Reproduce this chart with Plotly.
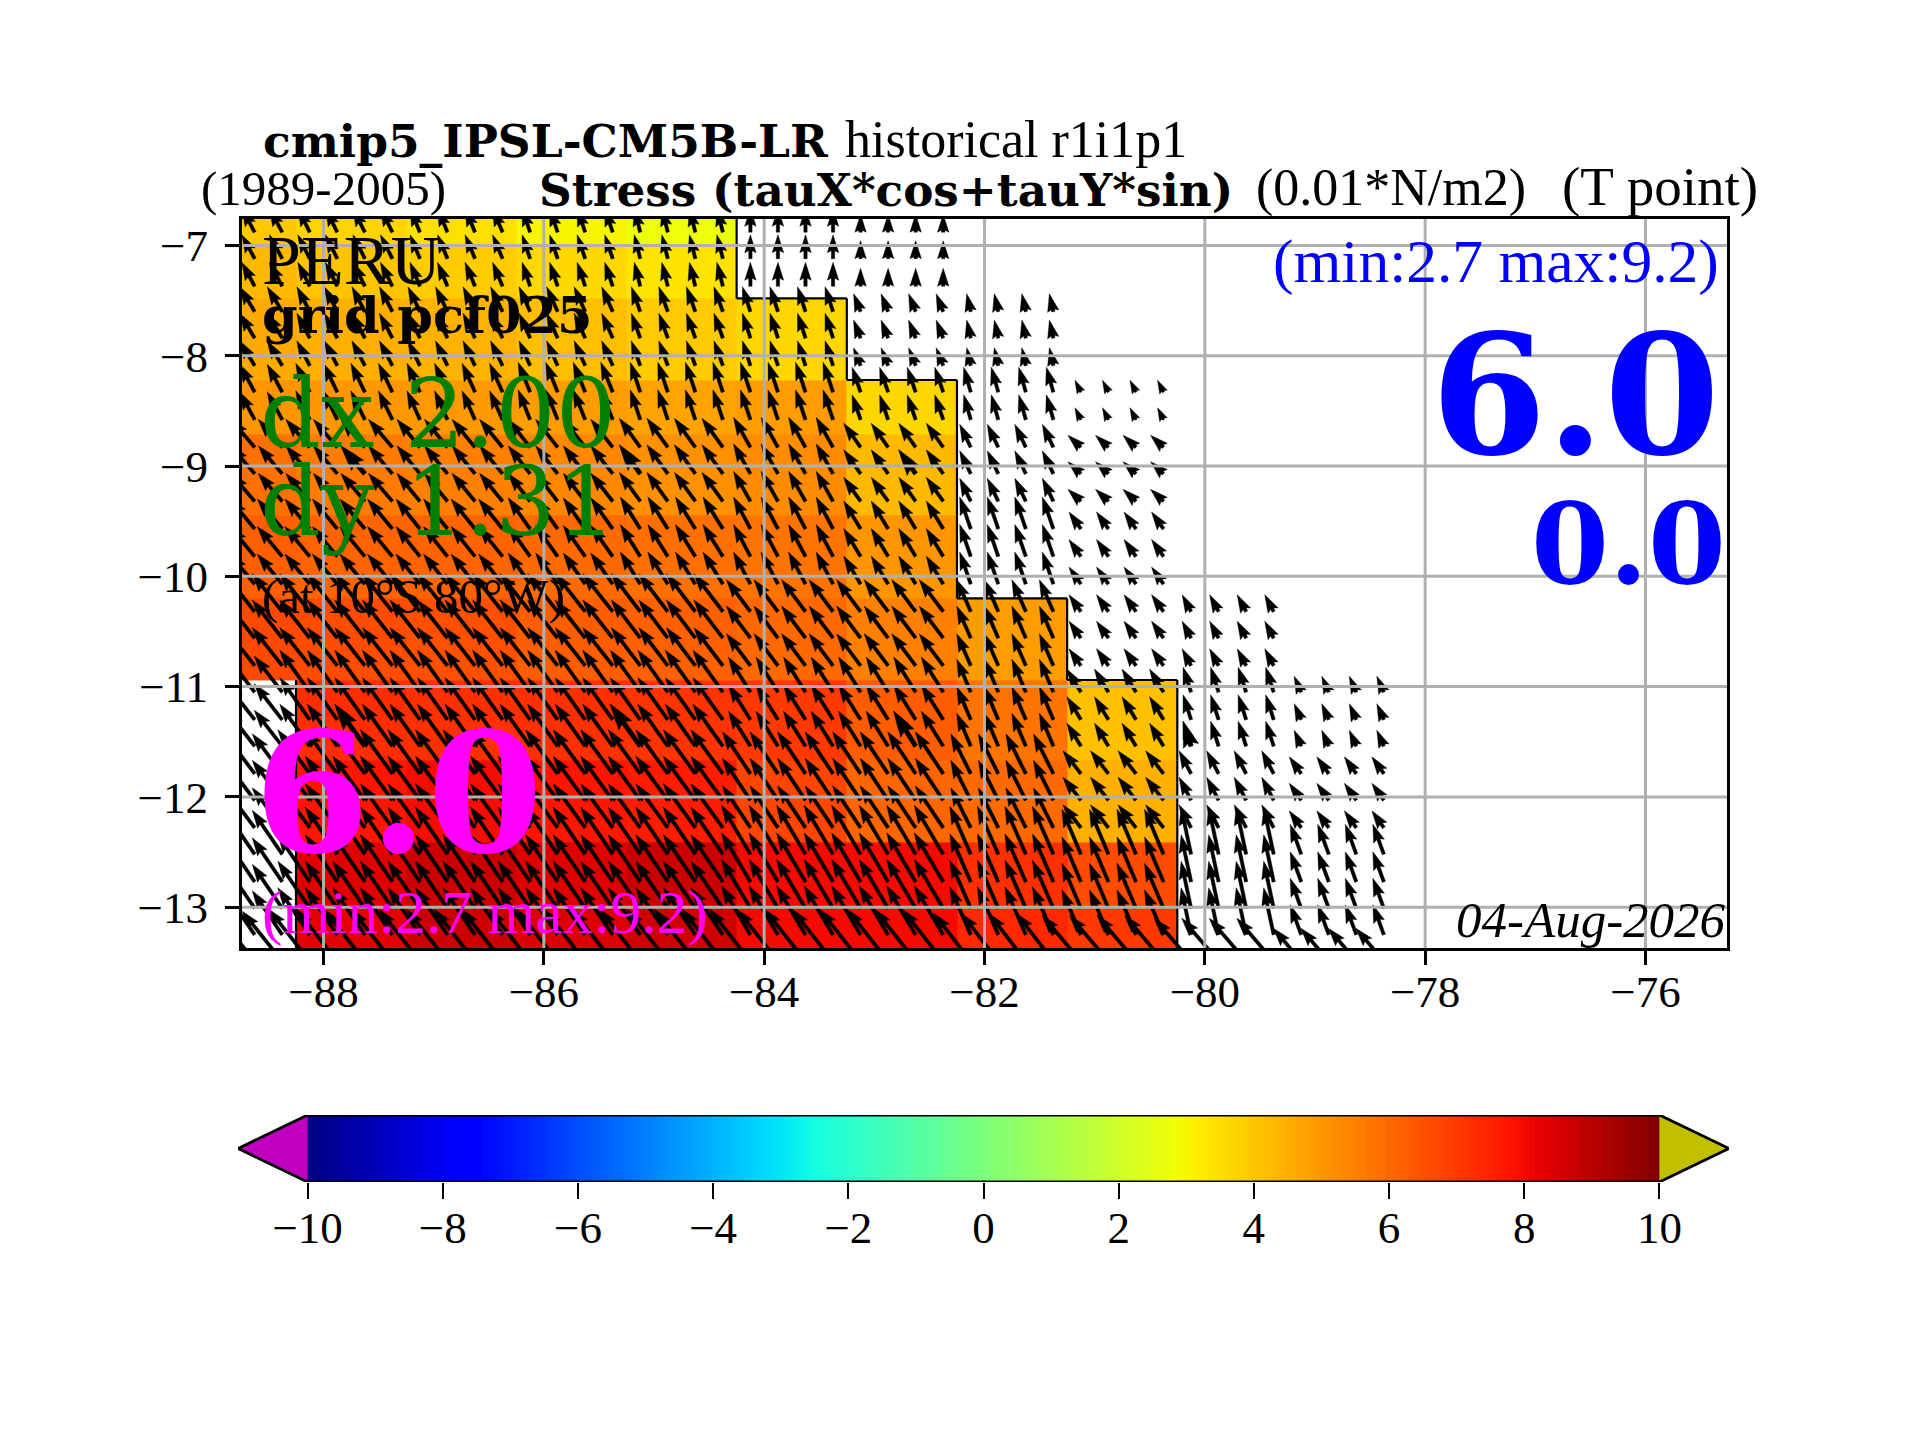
#!/usr/bin/env python3
import numpy as np
import plotly.graph_objects as go

W, H = 1920, 1440
PAGE = 8  # default body margin of the page
N = None

# stress modulus, one value per model cell (top row first)
lon_edges = [-88.8, -88.25, -87.25, -86.25, -85.25, -84.25, -83.25, -82.25, -81.25, -80.25]
lat_edges = [-6.7, -7.0, -7.48, -8.22, -8.71, -9.45, -10.2, -10.94, -11.67, -12.41, -13.0, -13.4]
modulus = [
    [3.95, 3.7, 3.45, 3.0, 2.75, N, N, N, N],
    [4.28, 4.05, 3.88, 3.63, 3.38, N, N, N, N],
    [4.6, 4.5, 4.4, 4.15, 3.93, 3.65, N, N, N],
    [5.05, 5.0, 4.95, 4.9, 4.75, 4.9, 3.65, N, N],
    [5.83, 5.57, 5.49, 5.32, 5.15, 5.23, 4.28, N, N],
    [6.19, 6.08, 6.08, 5.95, 5.83, 5.74, 5.02, N, N],
    [6.68, 6.6, 6.5, 6.2, 6.15, 5.98, 5.49, 4.9, N],
    [N, 7.25, 7.18, 7.18, 7.1, 7.0, 6.25, 5.74, 4.13],
    [N, 7.76, 7.95, 7.75, 7.6, 6.75, 6.05, 5.95, 4.47],
    [N, 8.32, 8.7, 8.35, 8.7, 8.0, 8.0, 7.18, 6.6],
    [N, 8.3, 8.7, 8.4, 8.65, 8.0, 8.0, 7.35, 7.0],
]

# vector points: lon columns per block, lat rows per group
arrow_lons = [
    [-88.625, -88.375],
    [-88.125, -87.875, -87.625, -87.375],
    [-87.125, -86.875, -86.625, -86.375],
    [-86.125, -85.875, -85.625, -85.375],
    [-85.125, -84.875, -84.625, -84.375],
    [-84.125, -83.875, -83.625, -83.375],
    [-83.125, -82.875, -82.625, -82.375],
    [-82.125, -81.875, -81.625, -81.375],
    [-81.125, -80.875, -80.625, -80.375],
    [-80.125, -79.875, -79.625, -79.375],
    [-79.125, -78.875, -78.625, -78.375],
]
arrow_lats = [
    [-6.88, -7.12, -7.37],
    [-7.6, -7.84, -8.09],
    [-8.33, -8.58],
    [-8.83, -9.07, -9.32],
    [-9.57, -9.82, -10.07],
    [-10.32, -10.56, -10.81],
    [-11.05, -11.3, -11.54],
    [-11.79, -12.03, -12.28],
    [-12.52, -12.77, -13.01, -13.25],
    [-13.49],
]
tau_u = [
    [-1.62, -1.5, -1.25, -1.0, -0.75, 0.0, 0.0],
    [-1.88, -1.62, -1.5, -1.38, -1.12, -1.0, -0.88, -0.5],
    [-1.88, -1.75, -1.62, -1.5, -1.25, -1.25, -1.06, -0.88, -0.75],
    [-3.0, -3.0, -2.88, -2.75, -2.62, -2.12, -2.12, -1.38, -1.62],
    [-3.12, -3.12, -3.0, -2.75, -2.5, -2.12, -2.12, -1.38, -1.5],
    [-3.75, -3.75, -3.75, -3.75, -3.62, -3.0, -3.0, -1.75, -1.5, -1.12],
    [-3.5, -3.75, -3.75, -3.75, -3.75, -2.75, -2.75, -1.75, -1.75, -1.0, -0.88],
    [-3.75, -4.0, -4.0, -4.0, -4.0, -3.5, -3.5, -2.5, -2.25, -1.5, -1.5],
    [-3.75, -4.0, -4.0, -4.0, -4.0, -3.62, -3.62, -2.62, -2.38, -1.25, -1.38],
    [-5.0, -5.12, -5.12, -5.12, -5.12, -5.12, -5.12, -4.62, -4.88, -4.62, -3.5],
]
tau_v = [
    [3.0, 3.0, 3.0, 3.0, 3.0, 3.0, 2.25],
    [3.12, 3.12, 3.12, 3.12, 3.12, 3.12, 2.25, 2.25],
    [3.5, 3.62, 3.62, 3.75, 3.75, 3.75, 3.12, 3.12, 1.5],
    [3.5, 3.5, 3.5, 3.5, 3.62, 3.75, 3.0, 2.88, 1.5],
    [3.75, 3.75, 3.75, 3.88, 4.0, 4.0, 3.5, 4.0, 2.12],
    [4.75, 4.75, 4.75, 4.75, 4.75, 4.0, 4.0, 4.0, 2.12, 2.12],
    [4.5, 5.25, 5.25, 5.25, 5.25, 4.38, 4.38, 4.12, 2.88, 3.12, 2.0],
    [5.0, 5.5, 5.5, 5.5, 5.5, 5.25, 5.25, 5.0, 2.88, 2.88, 2.12],
    [5.5, 5.88, 5.88, 5.88, 5.88, 6.12, 6.12, 6.0, 5.62, 5.88, 3.75],
    [6.25, 6.5, 6.5, 6.5, 6.5, 6.5, 6.5, 6.0, 5.75, 5.38, 4.12],
]
# every tenth vector gets a heavier head
heavy_lons = [-87.625, -85.125, -82.625, -80.125]
heavy_lats = [-9.07, -11.54]

x_ticks = [-88, -86, -84, -82, -80, -78, -76]
y_ticks = [-7, -8, -9, -10, -11, -12, -13]
cbar_ticks = [-10, -8, -6, -4, -2, 0, 2, 4, 6, 8, 10]

x_range = [-88.74, -75.26]
y_range = [-13.37, -6.76]
px_per_deg = 110.3
px_per_unit = 8.0

# jet, as matplotlib defines it
r_seg = ([0, .35, .66, .89, 1], [0, 0, 1, 1, .5])
g_seg = ([0, .125, .375, .64, .91, 1], [0, 0, 1, 1, 0, 0])
b_seg = ([0, .11, .34, .65, 1], [.5, 1, 1, 0, 0])
stops = sorted(set(r_seg[0] + g_seg[0] + b_seg[0]))
jet = []
for t in stops:
    c = [int(round(255 * np.interp(t, *s))) for s in (r_seg, g_seg, b_seg)]
    jet.append([t, f'rgb({c[0]},{c[1]},{c[2]})'])


def arrow_poly(lon, lat, u, v, w=3.4, hw=11.5, hl=18.0, hb=16.0):
    # tail-pivot arrow, sizes in pixels, head shrinks with short vectors
    dx, dy = u * px_per_unit, v * px_per_unit
    L = np.hypot(dx, dy)
    if L < hl:
        s = L / hl
        w, hw, hl, hb = w * s, hw * s, hl * s, hb * s
    ux, uy = dx / L, dy / L
    nx, ny = -uy, ux
    pts = [(0, w / 2), (L - hb, w / 2), (L - hl, hw / 2), (L, 0),
           (L - hl, -hw / 2), (L - hb, -w / 2), (0, -w / 2), (0, w / 2)]
    xs = [lon + (a * ux + b * nx) / px_per_deg for a, b in pts]
    ys = [lat + (a * uy + b * ny) / px_per_deg for a, b in pts]
    return xs, ys


ax, ay = [], []
for g, lats in enumerate(arrow_lats):
    for b, lons in enumerate(arrow_lons):
        if b >= len(tau_u[g]):
            continue
        for lat in lats:
            for lon in lons:
                xs, ys = arrow_poly(lon, lat, tau_u[g][b], tau_v[g][b])
                ax += xs + [None]
                ay += ys + [None]

for lat in heavy_lats:
    g = [i for i, l in enumerate(arrow_lats) if lat in l][0]
    for lon in heavy_lons:
        b = [i for i, l in enumerate(arrow_lons) if lon in l][0]
        if b >= len(tau_u[g]):
            continue
        xs, ys = arrow_poly(lon, lat, tau_u[g][b], tau_v[g][b], w=4.5, hw=16, hl=26, hb=23)
        ax += xs + [None]
        ay += ys + [None]

# coast: edges between filled and empty cells
cx, cy = [], []
nrow, ncol = len(modulus), len(modulus[0])
for i in range(nrow):
    for j in range(ncol):
        if modulus[i][j] is None:
            continue
        if i > 0 and modulus[i - 1][j] is None:
            cx += [lon_edges[j], lon_edges[j + 1], None]
            cy += [lat_edges[i], lat_edges[i], None]
        if j > 0 and modulus[i][j - 1] is None:
            cx += [lon_edges[j], lon_edges[j], None]
            cy += [lat_edges[i], lat_edges[i + 1], None]
        if j == ncol - 1 or modulus[i][j + 1] is None:
            cx += [lon_edges[j + 1], lon_edges[j + 1], None]
            cy += [lat_edges[i], lat_edges[i + 1], None]
        if i < nrow - 1 and j > 0 and modulus[i + 1][j] is None:
            cx += [lon_edges[j], lon_edges[j + 1], None]
            cy += [lat_edges[i + 1], lat_edges[i + 1], None]

fig = go.Figure()
fig.add_trace(go.Heatmap(x=lon_edges, y=lat_edges[::-1], z=modulus[::-1],
                         colorscale=jet, zmin=-10, zmax=10, showscale=False,
                         hoverinfo='skip'))
fig.add_trace(go.Scatter(x=cx, y=cy, mode='lines', hoverinfo='skip',
                         line=dict(color='black', width=2.2)))
fig.add_trace(go.Scatter(x=ax, y=ay, mode='lines', fill='toself', fillcolor='black',
                         hoverinfo='skip', line=dict(color='black', width=0.4)))

# grid sits above the vectors here, so it is a trace and not the axis grid
gx, gy = [], []
for t in x_ticks:
    gx += [t, t, None]
    gy += [y_range[0], y_range[1], None]
for t in y_ticks:
    gx += [x_range[0], x_range[1], None]
    gy += [t, t, None]
fig.add_trace(go.Scatter(x=gx, y=gy, mode='lines', hoverinfo='skip',
                         line=dict(color='#b0b0b0', width=3)))

# colour bar
levels = np.linspace(-10, 10, 256)
tip = 11.03
fig.add_trace(go.Heatmap(x=levels, y=[0, 1], z=[levels, levels], xaxis='x2', yaxis='y2',
                         colorscale=jet, zmin=-10, zmax=10, showscale=False,
                         hoverinfo='skip'))
fig.add_trace(go.Scatter(x=[-10, -tip, -10, -10], y=[0, .5, 1, 0], xaxis='x2', yaxis='y2',
                         mode='lines', fill='toself', fillcolor='#c000c0', hoverinfo='skip',
                         line=dict(color='black', width=0)))
fig.add_trace(go.Scatter(x=[10, tip, 10, 10], y=[0, .5, 1, 0], xaxis='x2', yaxis='y2',
                         mode='lines', fill='toself', fillcolor='#c0c000', hoverinfo='skip',
                         line=dict(color='black', width=0)))
fig.add_trace(go.Scatter(x=[-10, -tip, -10, 10, tip, 10, -10], y=[0, .5, 1, 1, .5, 0, 0],
                         xaxis='x2', yaxis='y2', mode='lines', hoverinfo='skip', cliponaxis=False,
                         line=dict(color='black', width=2.8)))

SERIF = 'Liberation Serif'
WIDE = 'DejaVu Serif'


def label(txt, x, base, size, color='black', anchor='left', family=SERIF):
    fig.add_annotation(text=txt, x=(x - PAGE) / W, y=1 - (base - PAGE - 0.347 * size) / H,
                       xref='paper', yref='paper', xanchor=anchor, yanchor='middle',
                       showarrow=False, font=dict(family=family, size=size, color=color))


label('<b>cmip5_IPSL-CM5B-LR</b>', 261, 157, 45.5, family=WIDE)
label('historical r1i1p1', 843, 158, 52)
label('(1989-2005)', 199, 206, 49)
label('<b>Stress (tauX*cos+tauY*sin)</b>', 537, 206, 45.3, family=WIDE)
label('(0.01*N/m2)', 1254, 206, 52)
label('(T point)', 1560, 206, 55)
label('PERU', 260, 285, 70)
label('<b>grid pcf025</b>', 260, 333, 51, family=WIDE)
label('dx 2.00', 258, 447, 95, color='#008000', family=WIDE)
label('dy 1.31', 258, 535, 95, color='#008000', family=WIDE)
label('(at 10°S 80°W)', 260, 614, 49)
label('<b>6.0</b>', 252, 851, 166, color='#ff00ff', family=WIDE)
label('(min:2.7 max:9.2)', 260, 934, 61.5, color='#ff00ff')
label('(min:2.7 max:9.2)', 1721, 283, 61.5, color='#0000ff', anchor='right')
label('<b>6.0</b>', 1722, 453, 166, color='#0000ff', anchor='right', family=WIDE)
label('<b>0.0</b>', 1728, 582, 112, color='#0000ff', anchor='right', family=WIDE)
label('<i>04-Aug-2026</i>', 1728, 938, 51, anchor='right')

tick_font = dict(family=SERIF, size=45, color='black')
fig.update_layout(
    width=W, height=H, autosize=False, showlegend=False,
    margin=dict(l=0, r=0, t=0, b=0),
    paper_bgcolor='white', plot_bgcolor='white',
    xaxis=dict(domain=[(242 - PAGE) / W, (1727 - PAGE) / W], range=x_range, tickvals=x_ticks,
               ticks='outside', ticklen=14, tickwidth=2.6, tickcolor='black',
               showgrid=False, zeroline=False, showline=True, mirror=True,
               linecolor='black', linewidth=3, tickfont=tick_font,
               ticklabelstandoff=-12, anchor='y'),
    yaxis=dict(domain=[1 - (948 - PAGE) / H, 1 - (219 - PAGE) / H], range=y_range, tickvals=y_ticks,
               ticks='outside', ticklen=14, tickwidth=2.6, tickcolor='black',
               showgrid=False, zeroline=False, showline=True, mirror=True,
               linecolor='black', linewidth=3, tickfont=tick_font,
               ticklabelstandoff=8, anchor='x'),
    xaxis2=dict(domain=[(238 - PAGE) / W, (1729 - PAGE) / W], range=[-tip, tip], tickvals=cbar_ticks,
                ticks='outside', ticklen=16, tickwidth=2.4, tickcolor='black',
                showgrid=False, zeroline=False, showline=False, tickfont=tick_font,
                ticklabelstandoff=-10, anchor='y2'),
    yaxis2=dict(domain=[1 - (1182 - PAGE) / H, 1 - (1115 - PAGE) / H], range=[0, 1], visible=False,
                anchor='x2'),
)

fig.write_html("out.html")
